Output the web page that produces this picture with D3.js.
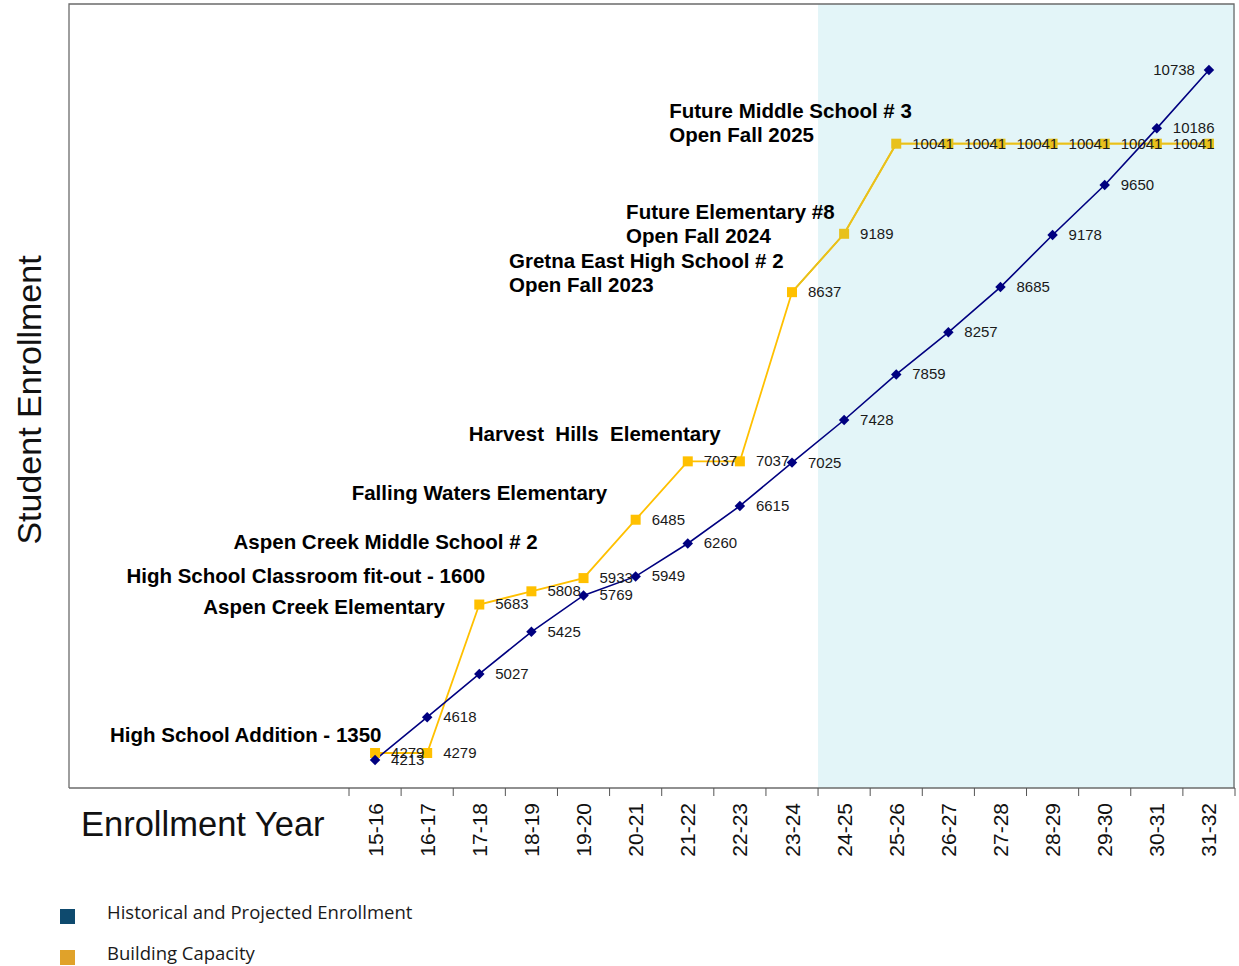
<!DOCTYPE html>
<html><head><meta charset="utf-8">
<script src="https://cdn.jsdelivr.net/npm/d3@7"></script>
<style>body{margin:0;background:#fff;font-family:"Liberation Sans",Arial,sans-serif}</style>
</head><body><svg id="c" width="1239" height="966"></svg>
<script>
const years = ["15-16","16-17","17-18","18-19","19-20","20-21","21-22","22-23","23-24","24-25","25-26","26-27","27-28","28-29","29-30","30-31","31-32"];
const enrollment = [4213,4618,5027,5425,5769,5949,6260,6615,7025,7428,7859,8257,8685,9178,9650,10186,10738];
const capacity = [4279,4279,5683,5808,5933,6485,7037,7037,8637,9189,10041,10041,10041,10041,10041,10041,10041];
const projectionStart = "24-25";
const annotations = [
  {lines:["Future Middle School # 3","Open Fall 2025"], year:"25-26", value:10041, dx:-227, dy:-31},
  {lines:["Future Elementary #8","Open Fall 2024"], year:"24-25", value:9189, dx:-218, dy:-20},
  {lines:["Gretna East High School # 2","Open Fall 2023"], year:"23-24", value:8637, dx:-283, dy:-30},
  {lines:["Harvest  Hills  Elementary"], year:"21-22", value:7037, dx:-219, dy:-26},
  {lines:["Falling Waters Elementary"], year:"20-21", value:6485, dx:-284, dy:-25},
  {lines:["Aspen Creek Middle School # 2"], year:"19-20", value:5933, dx:-350, dy:-35},
  {lines:["High School Classroom fit-out - 1600"], year:"18-19", value:5808, dx:-405, dy:-14},
  {lines:["Aspen Creek Elementary"], year:"17-18", value:5683, dx:-276, dy:4},
  {lines:["High School Addition - 1350"], year:"15-16", value:4279, dx:-265, dy:-16}
];
const legendItems = [
  {label:"Historical and Projected Enrollment", color:"#0e4a6e"},
  {label:"Building Capacity", color:"#e0a22a"}
];

const svg = d3.select("#c");
const L = 69, R = 1235, T = 4, B = 788, bandL = 349;
const x = d3.scaleBand().domain(years).range([bandL, R]);
const y = d3.scaleLinear().domain([3948, 11362]).range([B, T]);
const cx = d => x(d) + x.bandwidth()/2;
const projIdx = years.indexOf(projectionStart);

// shaded projection region
svg.append("rect").attr("x", x(projectionStart)).attr("y", T)
  .attr("width", R - x(projectionStart)).attr("height", B - T).attr("fill", "#e3f5f8");

// frame
svg.append("path").attr("d", `M${L},${B}V${T}H${R-1}V${B}`).attr("fill","none").attr("stroke","#6b6b6b").attr("stroke-width",1.3);

// x axis
const gx = svg.append("g").attr("transform", `translate(0,${B})`);
gx.append("line").attr("x1", L).attr("x2", R).attr("stroke","#6b6b6b").attr("stroke-width",1.3);
const bounds = years.map(d => x(d)).concat([R]);
gx.selectAll("line.t").data(bounds).join("line").attr("class","t")
  .attr("x1", d=>d).attr("x2", d=>d).attr("y1",0).attr("y2",8).attr("stroke","#555").attr("stroke-width",1);
gx.selectAll("text.yl").data(years).join("text").attr("class","yl")
  .attr("transform", d => `translate(${cx(d)+7.5},${15}) rotate(-90)`)
  .attr("text-anchor","end").attr("font-size",21).attr("fill","#111").text(d=>d);

// titles
svg.append("text").attr("x", 81).attr("y", 836).attr("font-size", 34.5).attr("fill","#111").text("Enrollment Year");
svg.append("text").attr("transform","translate(41,400) rotate(-90)").attr("text-anchor","middle")
  .attr("font-size", 34).attr("fill","#111").text("Student Enrollment");

// lines
const line = d3.line().x((d,i)=>cx(years[i])).y(d=>y(d));
svg.append("path").datum(capacity).attr("d", line).attr("fill","none").attr("stroke","#FFC000").attr("stroke-width",1.8);
svg.append("path").datum(capacity.slice(projIdx-1)).attr("d", d3.line().x((d,i)=>cx(years[i+projIdx-1])).y(d=>y(d)))
  .attr("fill","none").attr("stroke","#E8C11C").attr("stroke-width",1.8);
svg.append("path").datum(enrollment).attr("d", line).attr("fill","none").attr("stroke","#000080").attr("stroke-width",1.6);

// markers
svg.selectAll("rect.cap").data(capacity).join("rect").attr("class","cap")
  .attr("x",(d,i)=>cx(years[i])-5).attr("y",d=>y(d)-5).attr("width",10).attr("height",10)
  .attr("fill", (d,i)=> i >= projIdx ? "#E8C11C" : "#FFC000");
svg.selectAll("path.enr").data(enrollment).join("path").attr("class","enr")
  .attr("d", d3.symbol().type(d3.symbolSquare).size(55))
  .attr("transform",(d,i)=>`translate(${cx(years[i])},${y(d)}) rotate(45)`).attr("fill","#000080");

// labels
const last = years.length - 1;
svg.selectAll("text.el").data(enrollment).join("text").attr("class","el")
  .attr("x",(d,i)=> i === last ? cx(years[i])-14 : cx(years[i])+16)
  .attr("text-anchor",(d,i)=> i === last ? "end" : "start")
  .attr("y",d=>y(d)+1).attr("dominant-baseline","middle")
  .attr("font-size",15).attr("fill","#1a1a1a").text(d=>d);
svg.selectAll("text.cl").data(capacity.slice(0,last)).join("text").attr("class","cl")
  .attr("x",(d,i)=>cx(years[i])+16).attr("y",d=>y(d)+1).attr("dominant-baseline","middle")
  .attr("font-size",15).attr("fill","#1a1a1a").text(d=>d);

// annotations
annotations.forEach(a => {
  const t = svg.append("text").attr("font-size",20.5).attr("font-weight","bold").attr("fill","#000")
    .style("white-space","pre").attr("xml:space","preserve");
  a.lines.forEach((ln,j) => t.append("tspan").attr("x", cx(a.year)+a.dx).attr("y", y(a.value)+a.dy + j*24)
    .attr("dominant-baseline","middle").text(ln));
});

// legend
const lg = svg.append("g");
legendItems.forEach((it,i) => {
  lg.append("rect").attr("x",60).attr("y",909+i*41).attr("width",15).attr("height",15).attr("fill",it.color);
  lg.append("text").attr("x",107).attr("y",914+i*41).attr("dominant-baseline","middle")
    .attr("font-family","'Open Sans',sans-serif")
    .attr("font-size",18.5).attr("fill","#1a1a1a").text(it.label);
});
</script></body></html>
